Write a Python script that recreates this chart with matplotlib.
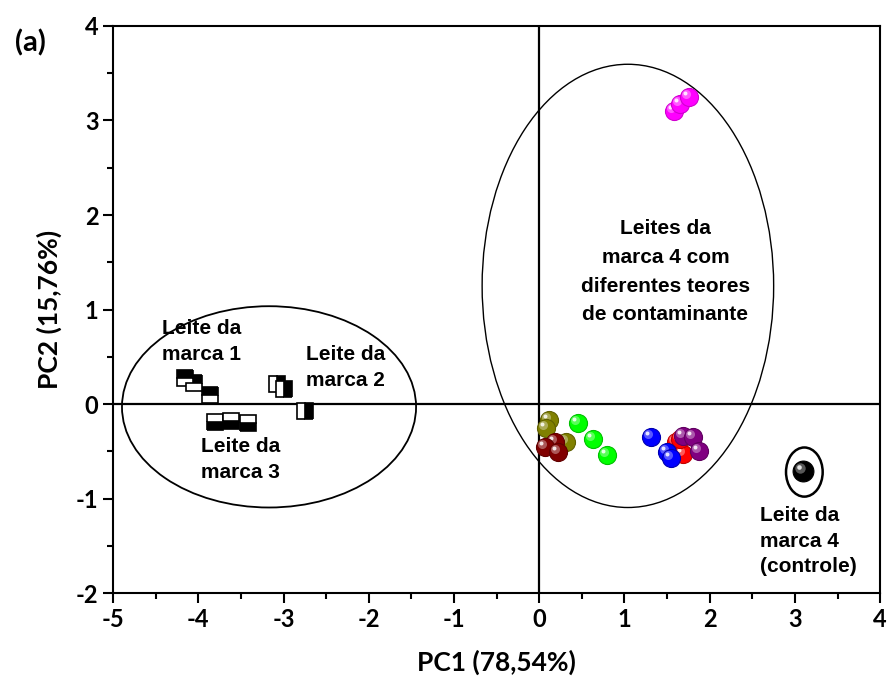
import matplotlib
matplotlib.use("Agg")
import matplotlib.pyplot as plt
import matplotlib.transforms as mtransforms
from matplotlib.patches import Ellipse

plt.rcParams['font.family'] = ['Lato', 'DejaVu Sans']
plt.rcParams['axes.unicode_minus'] = False

# brands 1-3 (half-filled squares)
m1_x = [-4.15, -4.05, -3.86]
m1_y = [0.275, 0.22, 0.095]
m2_x = [-3.08, -3.00, -2.75]
m2_y = [0.21, 0.16, -0.07]
m3_x = [-3.80, -3.62, -3.42]
m3_y = [-0.19, -0.18, -0.20]

# brand 4 with different contaminant levels (spheres)
olive_x = [0.12, 0.08, 0.31]
olive_y = [-0.17, -0.25, -0.40]
dred_x = [0.19, 0.07, 0.22]
dred_y = [-0.40, -0.46, -0.51]
green_x = [0.46, 0.63, 0.80]
green_y = [-0.20, -0.37, -0.54]
red_x = [1.60, 1.69, 1.65]
red_y = [-0.40, -0.53, -0.37]
blue_x = [1.31, 1.50, 1.54]
blue_y = [-0.35, -0.51, -0.57]
purple_x = [1.69, 1.80, 1.87]
purple_y = [-0.34, -0.35, -0.50]
mag_x = [1.58, 1.65, 1.76]
mag_y = [3.10, 3.17, 3.25]
ctrl_x = [3.09]
ctrl_y = [-0.71]

fig = plt.figure(figsize=(8.9, 6.84), dpi=100)
ax = fig.add_axes([0.127, 0.133, 0.862, 0.829])

ax.axhline(0, color="black", lw=1.6, zorder=1)
ax.axvline(0, color="black", lw=1.6, zorder=1)

# squares
ax.plot(m1_x, m1_y, ls="none", marker="s", ms=11, fillstyle="top", mfc="black",
        mfcalt="white", mec="black", mew=1.2, zorder=3)
ax.plot(m2_x, m2_y, ls="none", marker="s", ms=11, fillstyle="right", mfc="black",
        mfcalt="white", mec="black", mew=1.2, zorder=3)
ax.plot(m3_x, m3_y, ls="none", marker="s", ms=11, fillstyle="bottom", mfc="black",
        mfcalt="white", mec="black", mew=1.2, zorder=3)

hl1 = mtransforms.offset_copy(ax.transData, fig=fig, x=-3, y=3, units="dots")
hl2 = mtransforms.offset_copy(ax.transData, fig=fig, x=-4, y=4, units="dots")


def spheres(xs, ys, color, edge, size=13):
    for x, y in zip(xs, ys):
        ax.plot([x], [y], ls="none", marker="o", ms=size, mfc=color, mec=edge, mew=0.8, zorder=4)
        ax.plot([x], [y], ls="none", marker="o", ms=size * 0.5, mfc="white", mec="none",
                alpha=0.35, transform=hl1, zorder=4)
        ax.plot([x], [y], ls="none", marker="o", ms=size * 0.22, mfc="white", mec="none",
                alpha=0.85, transform=hl2, zorder=4)


spheres(olive_x, olive_y, "#808000", "#606000")
spheres(dred_x, dred_y, "#800000", "#600000")
spheres(green_x, green_y, "#00ff00", "#00c000")
spheres(red_x, red_y, "#ff0000", "#c00000")
spheres(blue_x, blue_y, "#0000ff", "#0000b0")
spheres(purple_x, purple_y, "#800080", "#600060")
spheres(mag_x, mag_y, "#ff00ff", "#d000d0")
spheres(ctrl_x, ctrl_y, "#000000", "#000000", size=15)

# ellipses
ax.add_patch(Ellipse((-3.17, -0.03), 3.45, 2.13, fill=False, ec="black", lw=1.3, zorder=2))
ax.add_patch(Ellipse((1.04, 1.25), 3.42, 4.69, fill=False, ec="black", lw=1.0, zorder=2))
ax.add_patch(Ellipse((3.11, -0.72), 0.43, 0.52, fill=False, ec="black", lw=1.8, zorder=2))

lab = dict(fontsize=15, fontweight="bold", family=["Liberation Sans"])
ax.text(-4.43, 0.66, "Leite da\nmarca 1", ha="left", va="center", linespacing=1.45, **lab)
ax.text(-2.74, 0.39, "Leite da\nmarca 2", ha="left", va="center", linespacing=1.45, **lab)
ax.text(-3.97, -0.59, "Leite da\nmarca 3", ha="left", va="center", linespacing=1.45, **lab)
ax.text(1.48, 1.40, "Leites da\nmarca 4 com\ndiferentes teores\nde contaminante",
        ha="center", va="center", linespacing=1.65, **lab)
ax.text(2.59, -1.45, "Leite da\nmarca 4\n(controle)", ha="left", va="center",
        linespacing=1.45, **lab)

ax.set_xlim(-5, 4)
ax.set_ylim(-2, 4)
ax.set_xticks(range(-5, 5))
ax.set_yticks(range(-2, 5))
ax.set_xticks([x + 0.5 for x in range(-5, 4)], minor=True)
ax.set_yticks([y + 0.5 for y in range(-2, 4)], minor=True)
ax.tick_params(which="major", direction="out", length=7, width=1.5, labelsize=17)
ax.tick_params(which="minor", direction="out", length=4, width=1.5)
for t in ax.get_xticklabels() + ax.get_yticklabels():
    t.set_fontweight("bold")
for s in ax.spines.values():
    s.set_linewidth(1.5)

ax.set_xlabel("PC1 (78,54%)", fontsize=19, fontweight="bold", labelpad=14)
ax.set_ylabel("PC2 (15,76%)", fontsize=19, fontweight="bold", labelpad=10)
fig.text(0.034, 0.938, "(a)", fontsize=21, fontweight="bold", ha="center", va="center")

fig.savefig("out.png", dpi=100)
